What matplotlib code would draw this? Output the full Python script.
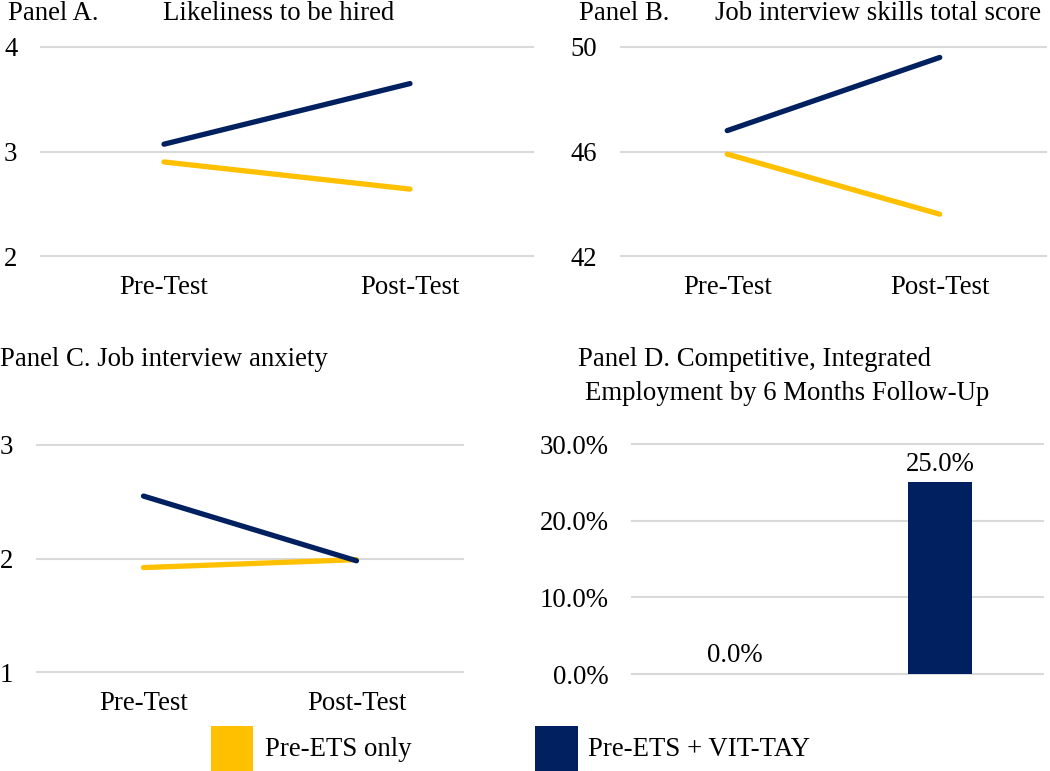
import matplotlib
matplotlib.use('Agg')
import matplotlib.pyplot as plt
from matplotlib.patches import Rectangle
from matplotlib.ticker import FuncFormatter

W, H = 1050, 771
plt.rcParams['font.family'] = ['Liberation Serif', 'DejaVu Serif']

# data
timepoints = ['Pre-Test', 'Post-Test']
hired_pre_ets = [2.90, 2.64]
hired_vit = [3.07, 3.65]
skills_pre_ets = [45.9, 43.6]
skills_vit = [46.8, 49.6]
anxiety_pre_ets = [1.92, 1.99]
anxiety_vit = [2.55, 1.98]
employment_groups = ['Pre-ETS only', 'Pre-ETS + VIT-TAY']
employment_pct = [0.0, 25.0]

YELLOW = '#FFC000'
NAVY = '#002060'
GRID = '#D9D9D9'
FS = 19.3

fig = plt.figure(figsize=(W / 100, H / 100), dpi=100)


def px_axes(x0, x1, ytop, ybot):
    return fig.add_axes([x0 / W, 1 - ybot / H, (x1 - x0) / W, (ybot - ytop) / H])


def px(x, y):
    return x / W, 1 - y / H


def style(ax, yticks, fmt=None):
    ax.set_xlim(-0.5, 1.5)
    ax.set_ylim(yticks[0], yticks[-1])
    ax.set_yticks(yticks)
    if fmt:
        ax.yaxis.set_major_formatter(FuncFormatter(fmt))
    for s in ax.spines.values():
        s.set_visible(False)
    ax.yaxis.grid(True, color=GRID, linewidth=1.5)
    for gl in ax.get_ygridlines():
        gl.set_clip_on(False)
    ax.tick_params(axis='y', length=0, pad=17, labelsize=FS)
    ax.tick_params(axis='x', length=0, pad=14, labelsize=FS)
    ax.set_axisbelow(True)
    ax.patch.set_alpha(0)


def lines(ax, pre, vit):
    x = range(len(timepoints))
    ax.plot(x, pre, color=YELLOW, linewidth=3.8, solid_capstyle='round', clip_on=False)
    ax.plot(x, vit, color=NAVY, linewidth=3.8, solid_capstyle='round', clip_on=False)
    ax.set_xticks(list(x))
    ax.set_xticklabels(timepoints)


# Panel A
axA = px_axes(41, 533, 47, 256)
style(axA, [2, 3, 4])
lines(axA, hired_pre_ets, hired_vit)
fig.text(*px(8, 13), 'Panel A.', fontsize=FS, va='center', ha='left')
fig.text(*px(163, 13), 'Likeliness to be hired', fontsize=FS, va='center', ha='left')

# Panel B
axB = px_axes(621, 1046, 47, 256)
style(axB, [42, 46, 50])
lines(axB, skills_pre_ets, skills_vit)
fig.text(*px(579, 13), 'Panel B.', fontsize=FS, va='center', ha='left')
fig.text(*px(715, 13), 'Job interview skills total score', fontsize=FS, va='center', ha='left')

# Panel C
axC = px_axes(37, 463, 445, 672)
style(axC, [1, 2, 3])
lines(axC, anxiety_pre_ets, anxiety_vit)
fig.text(*px(0, 360), 'Panel C. Job interview anxiety', fontsize=FS, va='center', ha='left')

# Panel D
axD = px_axes(632, 1043, 444, 674)
style(axD, [0, 10, 20, 30], fmt=lambda v, p: f'{v:.1f}%')
xs = range(len(employment_groups))
axD.bar(xs, employment_pct, width=0.31, color=[YELLOW, NAVY])
axD.set_xticks([])
for x, v in zip(xs, employment_pct):
    axD.annotate(f'{v:.1f}%', (x, v), xytext=(0, 13), textcoords='offset points',
                 ha='center', va='center', fontsize=FS)
fig.text(*px(578, 360), 'Panel D. Competitive, Integrated', fontsize=FS, va='center', ha='left')
fig.text(*px(585, 393), 'Employment by 6 Months Follow-Up', fontsize=FS, va='center', ha='left')

# legend
for (x0, x1, tx), col, lab in zip([(211, 253, 265), (535, 578, 588)], [YELLOW, NAVY], employment_groups):
    fig.add_artist(Rectangle(px(x0, 771), (x1 - x0) / W, 45 / H, transform=fig.transFigure,
                             facecolor=col, edgecolor='none'))
    fig.text(*px(tx, 750), lab, fontsize=FS, va='center', ha='left')

fig.savefig('out.png', dpi=100)
